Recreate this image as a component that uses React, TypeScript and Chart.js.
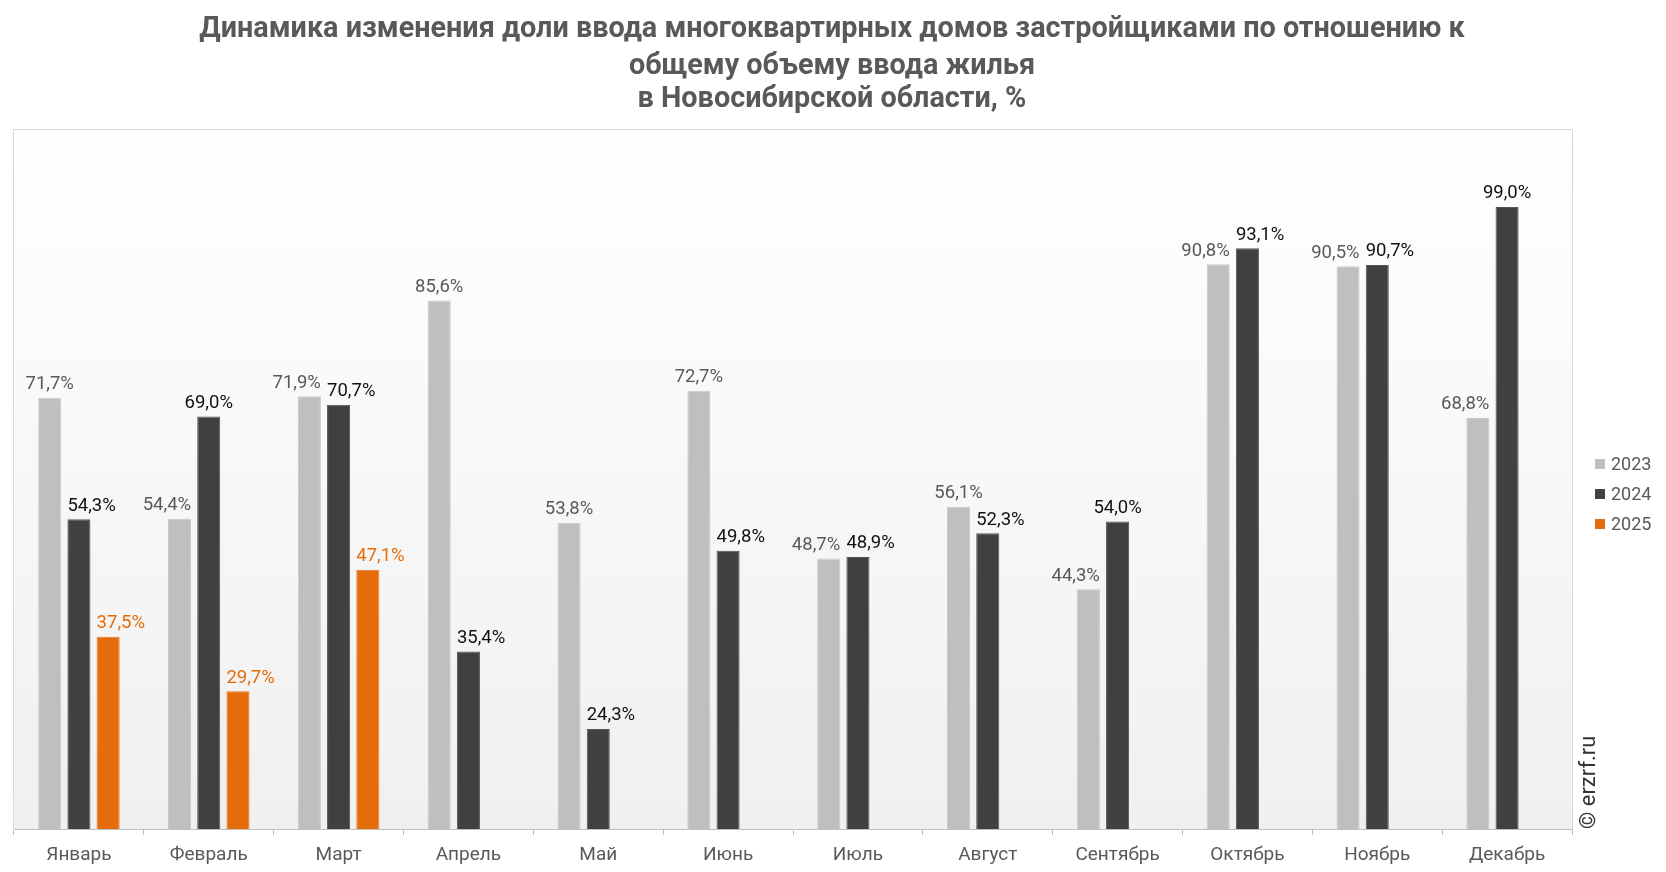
import React, { useEffect, useRef } from "react";
import { Chart, registerables } from "chart.js";

Chart.register(...registerables);

const TITLE_LINES = [
  "Динамика изменения доли ввода многоквартирных домов застройщиками по отношению к",
  "общему объему ввода жилья",
  "в Новосибирской области, %",
];

const MONTHS = [
  "Январь", "Февраль", "Март", "Апрель", "Май", "Июнь",
  "Июль", "Август", "Сентябрь", "Октябрь", "Ноябрь", "Декабрь",
];

const SERIES_NAMES = ["2023", "2024", "2025"];

const VALUES_2023 = [71.7, 54.4, 71.9, 85.6, 53.8, 72.7, 48.7, 56.1, 44.3, 90.8, 90.5, 68.8];
const VALUES_2024 = [54.3, 69.0, 70.7, 35.4, 24.3, 49.8, 48.9, 52.3, 54.0, 93.1, 90.7, 99.0];
const VALUES_2025 = [37.5, 29.7, 47.1, null, null, null, null, null, null, null, null, null];

const BAR_COLORS = ["#bfbfbf", "#404040", "#e46c0a"];
const BORDER_COLORS = ["#c9c9c9", "#555555", "#e8782a"];
const LABEL_COLORS = ["#595959", "#111111", "#e46c0a"];

const Y_MIN = 10;
const Y_MAX = 110;

const FONT = "Roboto, 'Noto Sans', sans-serif";
const LABEL_SIZE = 18.5;

const fmt = (v: number) => v.toFixed(1).replace(".", ",") + "%";

type Box = { l: number; r: number; t: number; b: number };
const overlap = (a: Box, b: Box) => {
  const w = Math.min(a.r, b.r) - Math.max(a.l, b.l);
  const h = Math.min(a.b, b.b) - Math.max(a.t, b.t);
  return w > 0 && h > 0 ? w * h : 0;
};

const decorPlugin = {
  id: "decor",
  beforeDraw(chart: any) {
    const { ctx, chartArea } = chart;
    const { left, right, top, bottom } = chartArea;
    ctx.save();
    const g = ctx.createLinearGradient(0, top, 0, bottom);
    g.addColorStop(0, "#ffffff");
    g.addColorStop(1, "#f0f0f0");
    ctx.fillStyle = g;
    ctx.fillRect(left, top, right - left, bottom - top);
    ctx.strokeStyle = "#d9d9d9";
    ctx.lineWidth = 1;
    ctx.beginPath();
    ctx.moveTo(left - 0.5, bottom);
    ctx.lineTo(left - 0.5, top - 0.5);
    ctx.lineTo(right + 0.5, top - 0.5);
    ctx.lineTo(right + 0.5, bottom);
    ctx.stroke();

    // title
    ctx.fillStyle = "#595959";
    ctx.font = `bold 28.8px ${FONT}`;
    ctx.textAlign = "center";
    ctx.textBaseline = "middle";
    const cx = 832;
    const ys = [30, 67, 100];
    TITLE_LINES.forEach((t, i) => ctx.fillText(t, cx, ys[i]));
    ctx.restore();
  },
  afterDatasetsDraw(chart: any) {
    const { ctx } = chart;
    ctx.save();
    ctx.font = `${LABEL_SIZE}px ${FONT}`;

    // collect bars and labels
    const bars: Box[] = [];
    const labels: any[] = [];
    chart.data.datasets.forEach((ds: any, di: number) => {
      const meta = chart.getDatasetMeta(di);
      meta.data.forEach((el: any, i: number) => {
        const v = ds.data[i];
        if (v === null || v === undefined) return;
        const half = el.width / 2;
        bars.push({ l: el.x - half, r: el.x + half, t: el.y, b: el.base });
        const text = fmt(v);
        const w = ctx.measureText(text).width;
        const textY = el.y - 4;
        const s = (w - el.width) / 2;
        labels.push({
          text, w, textY, x: el.x, v, di, barIdx: bars.length - 1,
          cands: [0, s, -s], shift: null as number | null,
        });
      });
    });

    const boxOf = (lb: any, shift: number): Box => ({
      l: lb.x + shift - lb.w / 2,
      r: lb.x + shift + lb.w / 2,
      t: lb.textY - 17,
      b: lb.textY,
    });

    const order = [...labels].sort((a, b) => a.v - b.v);
    for (let pass = 0; pass < 3; pass++) {
      order.forEach((lb) => {
        let best = lb.cands[0];
        let bestScore = Infinity;
        for (const c of lb.cands) {
          const box = boxOf(lb, c);
          let score = 0;
          bars.forEach((b, bi) => {
            if (bi !== lb.barIdx) score += overlap(box, b);
          });
          labels.forEach((o) => {
            if (o !== lb && o.shift !== null) score += overlap(box, boxOf(o, o.shift));
          });
          if (score === 0) { best = c; bestScore = 0; break; }
          if (score < bestScore) { bestScore = score; best = c; }
        }
        lb.shift = best;
      });
    }

    ctx.textAlign = "center";
    ctx.textBaseline = "bottom";
    labels.forEach((lb) => {
      ctx.fillStyle = LABEL_COLORS[lb.di];
      ctx.fillText(lb.text, lb.x + (lb.shift || 0), lb.textY);
    });

    // legend
    const lx = 1595;
    const ly = [465, 495, 525];
    ctx.textAlign = "left";
    ctx.textBaseline = "middle";
    ctx.font = `18px ${FONT}`;
    SERIES_NAMES.forEach((name, i) => {
      ctx.fillStyle = BAR_COLORS[i];
      ctx.fillRect(lx, ly[i] - 6, 10, 10);
      ctx.fillStyle = "#595959";
      ctx.fillText(name, lx + 16, ly[i]);
    });

    // watermark
    ctx.save();
    ctx.translate(1589, 829);
    ctx.rotate(-Math.PI / 2);
    ctx.fillStyle = "#333333";
    ctx.font = `22px ${FONT}`;
    ctx.textAlign = "left";
    ctx.textBaseline = "middle";
    ctx.fillText("© erzrf.ru", 0, 0);
    ctx.restore();
    ctx.restore();
  },
};

export default function App() {
  const ref = useRef<HTMLCanvasElement | null>(null);

  useEffect(() => {
    if (!ref.current) return;
    const data = [VALUES_2023, VALUES_2024, VALUES_2025];
    const chart = new Chart(ref.current, {
      type: "bar",
      data: {
        labels: MONTHS,
        datasets: SERIES_NAMES.map((name, i) => ({
          label: name,
          data: data[i],
          backgroundColor: BAR_COLORS[i],
          borderColor: BORDER_COLORS[i],
          borderWidth: 1,
          categoryPercentage: 0.675,
          barPercentage: 0.79,
        })),
      },
      options: {
        responsive: true,
        maintainAspectRatio: false,
        animation: false,
        layout: { padding: { left: 14, right: 94, top: 130, bottom: 0 } },
        plugins: {
          legend: { display: false },
          title: { display: false },
          tooltip: { enabled: false },
        },
        scales: {
          x: {
            offset: true,
            grid: {
              offset: true,
              drawOnChartArea: false,
              drawTicks: true,
              tickLength: 6,
              color: "#bfbfbf",
            },
            border: { color: "#bfbfbf", width: 1 },
            ticks: {
              color: "#595959",
              font: { family: FONT, size: 19 },
              padding: 9,
              maxRotation: 0,
            },
            afterFit: (scale: any) => {
              scale.height = 43;
            },
          },
          y: {
            display: false,
            min: Y_MIN,
            max: Y_MAX,
          },
        },
      },
      plugins: [decorPlugin],
    });
    return () => chart.destroy();
  }, []);

  return (
    <div style={{ position: "fixed", left: 0, top: 0, width: 1666, height: 872, background: "#fff" }}>
      <canvas ref={ref} />
    </div>
  );
}
